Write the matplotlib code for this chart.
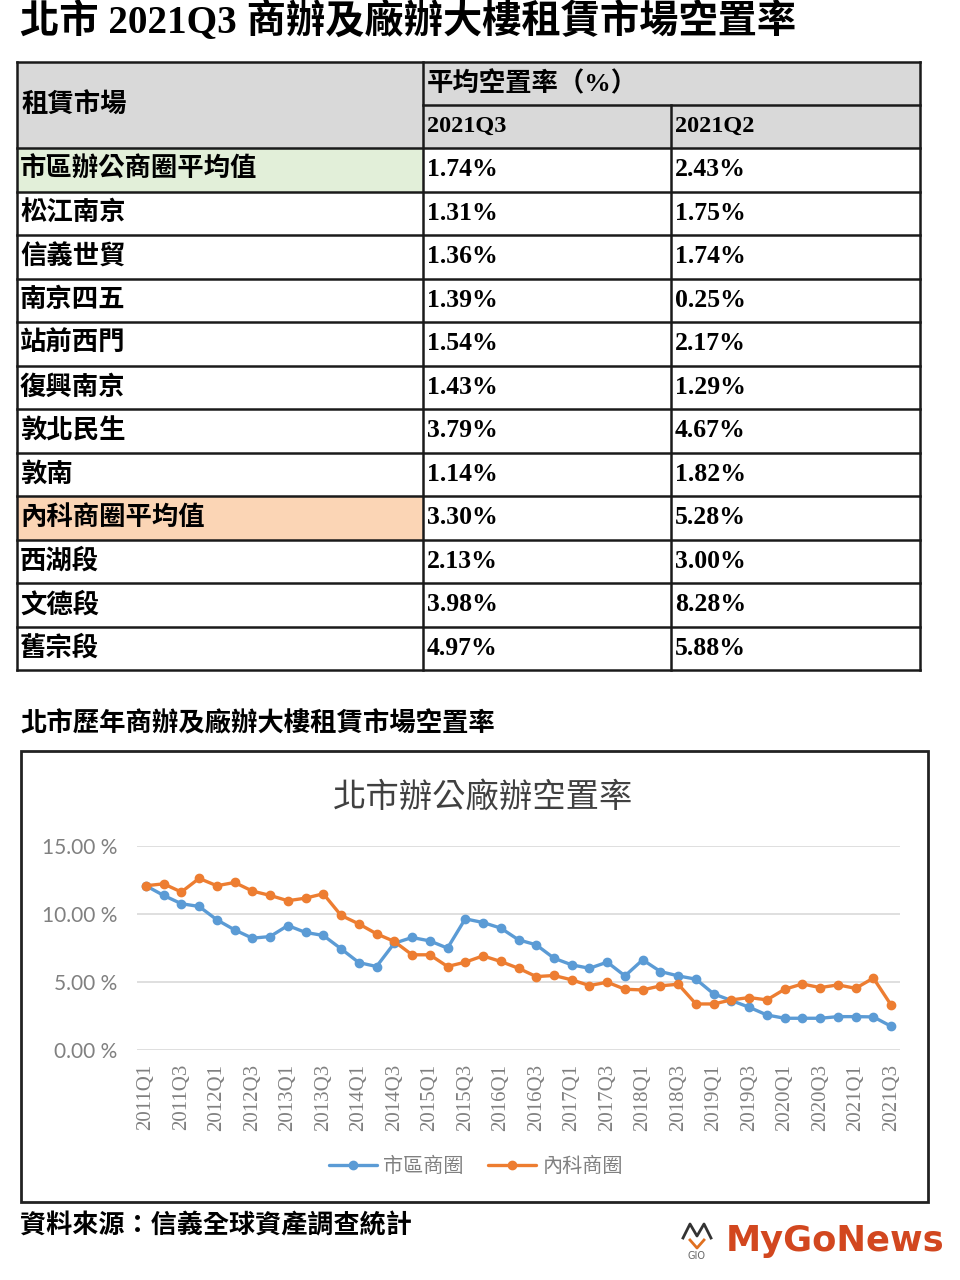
import matplotlib
matplotlib.use("Agg")
import matplotlib.pyplot as plt
from matplotlib.patches import Rectangle

# ---------------- data ----------------
markets = ['市區辦公商圈平均值', '松江南京', '信義世貿', '南京四五', '站前西門', '復興南京',
           '敦北民生', '敦南', '內科商圈平均值', '西湖段', '文德段', '舊宗段']
rate_2021q3 = [1.74, 1.31, 1.36, 1.39, 1.54, 1.43, 3.79, 1.14, 3.30, 2.13, 3.98, 4.97]
rate_2021q2 = [2.43, 1.75, 1.74, 0.25, 2.17, 1.29, 4.67, 1.82, 5.28, 3.00, 8.28, 5.88]

quarters = [f"{y}Q{q}" for y in range(2011, 2022) for q in range(1, 5)][:43]
city_office = [12.06, 11.35, 10.74, 10.54,
               9.56, 8.82, 8.21, 8.33,
               9.14, 8.63, 8.41, 7.43,
               6.42, 6.13, 7.84, 8.26,
               8.01, 7.48, 9.63, 9.36,
               8.95, 8.09, 7.72, 6.74,
               6.25, 6.00, 6.45, 5.44,
               6.62, 5.76, 5.44, 5.20,
               4.12, 3.63, 3.14, 2.57,
               2.33, 2.33, 2.33, 2.45,
               2.45, 2.43, 1.74]
neihu = [12.06, 12.20, 11.60, 12.60,
         12.06, 12.30, 11.67, 11.35,
         10.96, 11.15, 11.47, 9.88,
         9.26, 8.53, 7.97, 6.99,
         6.99, 6.13, 6.45, 6.91,
         6.50, 6.00, 5.39, 5.47,
         5.15, 4.73, 4.98, 4.46,
         4.41, 4.71, 4.83, 3.38,
         3.38, 3.68, 3.85, 3.68,
         4.46, 4.85, 4.58, 4.78,
         4.53, 5.28, 3.30]
series_names = ['市區商圈', '內科商圈']
yticks = [0, 5, 10, 15]

CJK = 'Noto Sans CJK TC'
SERIF_CJK = ['Liberation Serif', CJK]

fig = plt.figure(figsize=(9.6, 12.8), dpi=100)
bg = fig.add_axes([0, 0, 1, 1])
bg.set_xlim(0, 960)
bg.set_ylim(1280, 0)
bg.axis('off')

# ---------------- titles ----------------
bg.text(20, 22, '北市 2021Q3 商辦及廠辦大樓租賃市場空置率', family=SERIF_CJK,
        fontsize=28.3, fontweight='heavy', va='center', ha='left', color='black')

# ---------------- table ----------------
col_x = [17, 423, 671, 920]
top = 62
hdr_h = 43
row_h = 43.5
data_top = top + 2 * hdr_h
bottom = data_top + row_h * len(markets)
line_c = '#1a1a1a'
lw = 1.8
gray = '#d9d9d9'
green = '#e2efd9'
peach = '#fbd5b5'

bg.add_patch(Rectangle((col_x[0], top), col_x[3] - col_x[0], 2 * hdr_h, facecolor=gray, edgecolor='none'))
bg.add_patch(Rectangle((col_x[0], data_top), col_x[1] - col_x[0], row_h, facecolor=green, edgecolor='none'))
bg.add_patch(Rectangle((col_x[0], data_top + 8 * row_h), col_x[1] - col_x[0], row_h, facecolor=peach, edgecolor='none'))

bg.plot([col_x[0], col_x[3]], [top, top], color=line_c, lw=lw)
bg.plot([col_x[1], col_x[3]], [top + hdr_h, top + hdr_h], color=line_c, lw=lw)
for i in range(len(markets) + 1):
    y = data_top + i * row_h
    bg.plot([col_x[0], col_x[3]], [y, y], color=line_c, lw=lw)
bg.plot([col_x[0], col_x[0]], [top, bottom], color=line_c, lw=lw)
bg.plot([col_x[1], col_x[1]], [top, bottom], color=line_c, lw=lw)
bg.plot([col_x[2], col_x[2]], [top + hdr_h, bottom], color=line_c, lw=lw)
bg.plot([col_x[3], col_x[3]], [top, bottom], color=line_c, lw=lw)

cell_fs = 19
bg.text(col_x[0] + 4, top + hdr_h, '租賃市場', family=SERIF_CJK, fontsize=cell_fs,
        fontweight='bold', va='center', ha='left')
bg.text(col_x[1] + 4, top + hdr_h / 2, '平均空置率（%）', family=SERIF_CJK, fontsize=cell_fs,
        fontweight='bold', va='center', ha='left')
bg.text(col_x[1] + 4, top + 1.5 * hdr_h, '2021Q3', family=SERIF_CJK, fontsize=17.5,
        fontweight='bold', va='center', ha='left')
bg.text(col_x[2] + 4, top + 1.5 * hdr_h, '2021Q2', family=SERIF_CJK, fontsize=17.5,
        fontweight='bold', va='center', ha='left')
for i, (m, a, b) in enumerate(zip(markets, rate_2021q3, rate_2021q2)):
    yc = data_top + (i + 0.5) * row_h
    bg.text(col_x[0] + 3, yc, m, family=SERIF_CJK, fontsize=cell_fs, fontweight='bold',
            va='center', ha='left')
    bg.text(col_x[1] + 4, yc, f'{a:.2f}%', family=SERIF_CJK, fontsize=18.5, fontweight='bold',
            va='center', ha='left')
    bg.text(col_x[2] + 4, yc, f'{b:.2f}%', family=SERIF_CJK, fontsize=18.5, fontweight='bold',
            va='center', ha='left')

# ---------------- chart section ----------------
bg.text(20, 724, '北市歷年商辦及廠辦大樓租賃市場空置率', family=CJK, fontsize=19,
        fontweight='bold', va='center', ha='left')
bg.add_patch(Rectangle((21, 751), 907, 451, facecolor='white', edgecolor='#222222', lw=2))
bg.text(483, 797, '北市辦公廠辦空置率', family=CJK, fontsize=24, color='#404040',
        va='center', ha='center')

ax = fig.add_axes([137 / 960, 1 - 1050 / 1280, (900 - 137) / 960, (1050 - 845.7) / 1280])
ax.set_facecolor('none')
x = list(range(len(quarters)))
blue = '#5b9bd5'
orange = '#ed7d31'
ax.plot(x, city_office, color=blue, lw=2.4, marker='o', markersize=6, label=series_names[0],
        solid_capstyle='round')
ax.plot(x, neihu, color=orange, lw=2.4, marker='o', markersize=6, label=series_names[1],
        solid_capstyle='round')
ax.set_xlim(-0.5, len(quarters) - 0.5)
ax.set_ylim(0, 15)
ax.set_yticks(yticks)
ax.set_yticklabels([f'{v:.2f} %' for v in yticks], family='Lato', fontsize=15, color='#808080')
ax.set_xticks(x[::2])
ax.set_xticklabels(quarters[::2], rotation=90, family='Liberation Serif', fontsize=15,
                   color='#808080')
ax.tick_params(axis='y', length=0, pad=14)
ax.tick_params(axis='x', length=0, pad=10)
ax.grid(axis='y', color='#d9d9d9', lw=1.2)
ax.set_axisbelow(True)
for s in ax.spines.values():
    s.set_visible(False)

leg = ax.legend(loc='center', bbox_to_anchor=(476 / 960, 1 - 1167 / 1280),
                bbox_transform=fig.transFigure, ncol=2, frameon=False,
                prop={'family': CJK, 'size': 14.5}, handlelength=2.4,
                handletextpad=0.3, columnspacing=1.2, markerscale=1.0)
for t in leg.get_texts():
    t.set_color('#808080')

# ---------------- footer ----------------
bg.text(20, 1226, '資料來源：信義全球資產調查統計', family=CJK, fontsize=18.8,
        fontweight='bold', va='center', ha='left')
bg.text(944, 1241, 'MyGoNews', family='DejaVu Sans', fontsize=25.5, fontweight='bold',
        color='#d2471f', va='center', ha='right')
bg.plot([683, 690, 697, 704, 711], [1238, 1224, 1236, 1224, 1238], color='#333333', lw=2)
bg.plot([690, 697, 704], [1240, 1248, 1240], color='#e07020', lw=2)
bg.text(697, 1256, 'GIO', family='DejaVu Sans', fontsize=7, color='#666666',
        ha='center', va='center')

fig.savefig('out.png', dpi=100, facecolor='white')
